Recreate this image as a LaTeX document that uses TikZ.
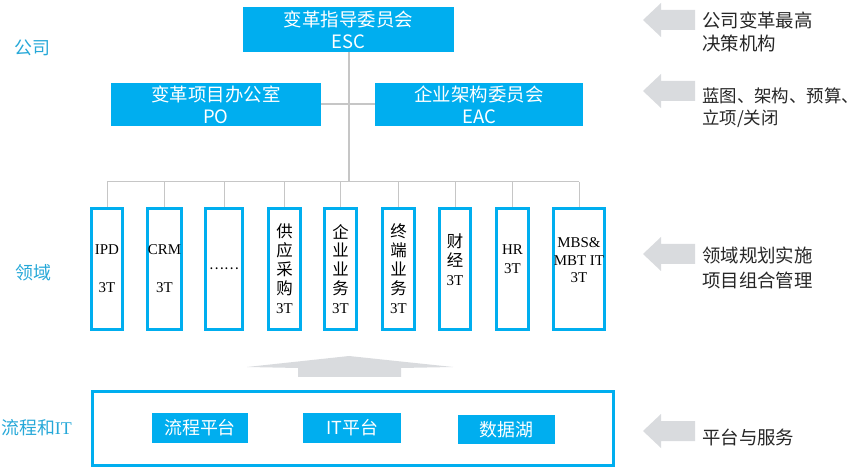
\documentclass[tikz,border=0pt]{standalone}
\usepackage{fontspec}
\setmainfont{Liberation Serif}
\newfontfamily\cjk{Noto Sans CJK SC}
\usetikzlibrary{positioning, calc}
\definecolor{skyblue}{RGB}{0, 174, 239}
\definecolor{hintgray}{RGB}{217, 219, 222}
\definecolor{wiregray}{RGB}{198, 198, 198}
\definecolor{sidecyan}{RGB}{38, 168, 216}
\newcommand{\zh}[1]{{\cjk\fontsize{16.5}{19}\selectfont #1}}

\begin{document}
\begin{tikzpicture}[x=1bp, y=-1bp,
    bluebox/.style={fill=skyblue, text=white, inner sep=0pt, align=center, font=\cjk\fontsize{18.5}{22}\selectfont},
    areabox/.style={draw=skyblue, line width=3bp, fill=white, inner sep=0pt, minimum height=121bp, align=center, font=\fontsize{15}{19}\selectfont},
    sidelabel/.style={text=sidecyan, inner sep=0pt, font=\cjk\fontsize{18}{22}\selectfont},
    remark/.style={anchor=west, inner sep=0pt, align=left, text=black!85, font=\cjk\fontsize{18.5}{23}\selectfont}]
    \useasboundingbox (0,0) rectangle (865,468);

    % committees
    \node[bluebox, minimum width=211bp, minimum height=45bp] (esc) at (348.5,29.5) {变革指导委员会\\ESC};
    \node[bluebox, minimum width=210bp, minimum height=43bp] (po) at (216,104.5) {变革项目办公室\\PO};
    \node[bluebox, minimum width=208bp, minimum height=43bp] (eac) at (479,104.5) {企业架构委员会\\EAC};

    % domains
    \node[areabox, minimum width=31bp] (ipd) at (107,269) {IPD\\[19bp]3T};
    \node[areabox, minimum width=32bp] (crm) at (164.5,269) {CRM\\[19bp]3T};
    \node[areabox, minimum width=37bp] (etc) at (224,269) {{\cjk\fontsize{14}{19}\selectfont ……}};
    \node[areabox, minimum width=32bp] (scm) at (284.5,269) {\zh{供}\\\zh{应}\\\zh{采}\\\zh{购}\\3T};
    \node[areabox, minimum width=32bp] (ent) at (340.5,269) {\zh{企}\\\zh{业}\\\zh{业}\\\zh{务}\\3T};
    \node[areabox, minimum width=32bp] (term) at (398.5,269) {\zh{终}\\\zh{端}\\\zh{业}\\\zh{务}\\3T};
    \node[areabox, minimum width=31bp] (fin) at (455,269) {\zh{财}\\\zh{经}\\3T\\\mbox{}};
    \node[areabox, minimum width=32bp] (hr) at (512.5,269) {HR\\3T\\\mbox{}};
    \node[areabox, minimum width=51bp, font=\fontsize{15}{18}\selectfont] (mbs) at (579,269) {MBS\&\\MBT IT\\3T\\\mbox{}};

    % wiring
    \coordinate (bus) at (348.5,182);
    \draw[wiregray, line width=2bp] (esc.south) -- (bus);
    \draw[wiregray, line width=2bp] (po.east) -- (eac.west);
    \draw[wiregray, line width=1bp] (ipd.north |- bus) -- (mbs.north |- bus);
    \foreach \c in {ipd, crm, etc, scm, ent, term, fin, hr, mbs}
        \draw[wiregray, line width=1bp] (\c.north) -- (\c.north |- bus);

    % platform
    \fill[hintgray] (349,356) -- (453,367) -- (401,368) -- (401,377) -- (298,377) -- (298,368) -- (247,367) -- cycle;
    \node[draw=skyblue, line width=3bp, minimum width=521bp, minimum height=74bp, inner sep=0pt] (platform) at (353,428.5) {};
    \node[bluebox, minimum width=96bp, minimum height=30bp, font=\cjk\fontsize{18}{20}\selectfont] (flow) at (200,428) {流程平台};
    \node[bluebox, minimum width=98bp, minimum height=30bp, font=\cjk\fontsize{18}{20}\selectfont] (itp) at (352,428) {IT平台};
    \node[bluebox, minimum width=97bp, minimum height=29bp, font=\cjk\fontsize{18}{20}\selectfont] (lake) at (506.5,429.5) {数据湖};

    % levels
    \node[sidelabel] (company) at (32,48) {公司};
    \node[sidelabel] (domain) at (33,273) {领域};
    \node[sidelabel] (process) at (36.5,428) {流程和{\rmfamily IT}};

    % remarks
    \foreach \y in {20, 91, 254, 431}
        \fill[hintgray] (643,\y) -- ++(18,-17) -- ++(0,7) -- ++(34,0) -- ++(0,20) -- ++(-34,0) -- ++(0,7) -- cycle;
    \node[remark] (note esc) at (702,31.5) {公司变革最高\\决策机构};
    \node[remark, font=\cjk\fontsize{17.5}{22}\selectfont] (note po) at (702,107.5) {蓝图、架构、预算、\\立项/关闭};
    \node[remark, font=\cjk\fontsize{18.5}{25}\selectfont] (note domain) at (702,267.5) {领域规划实施\\项目组合管理};
    \node[remark] (note platform) at (702,437) {平台与服务};
\end{tikzpicture}
\end{document}
